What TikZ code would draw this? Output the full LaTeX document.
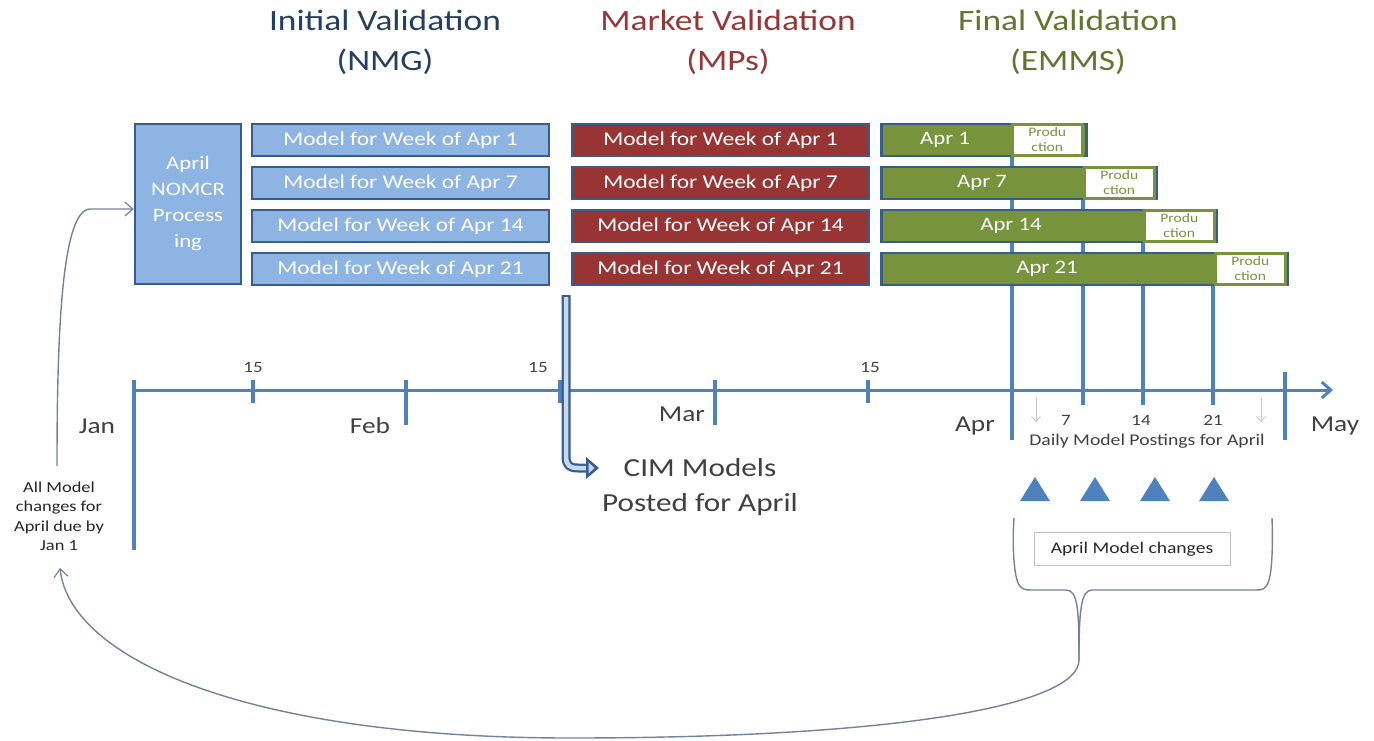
\documentclass[tikz,border=0pt]{standalone}
\usepackage{fontspec}
\setmainfont{Carlito}[FakeStretch=1.2]
\usetikzlibrary{arrows.meta}
\definecolor{navyT}{HTML}{243F60}
\definecolor{redT}{HTML}{953735}
\definecolor{greenT}{HTML}{5F7530}
\definecolor{boxblue}{HTML}{8DB4E2}
\definecolor{boxborder}{HTML}{385D8A}
\definecolor{boxred}{HTML}{983434}
\definecolor{boxgreen}{HTML}{77933C}
\definecolor{axisblue}{HTML}{4F81BD}
\definecolor{txtgray}{HTML}{404040}
\definecolor{curvec}{HTML}{71829E}
\definecolor{cimfill}{HTML}{C6D9F1}
\tikzset{
  title/.style={font=\fontsize{29.5}{40}\selectfont, align=center, inner sep=0},
  wkbox/.style={draw=boxborder, line width=2.5pt, minimum width=297pt, minimum height=32pt, inner sep=0, text=white, font=\fontsize{19.5}{20}\selectfont},
  bluebox/.style={wkbox, fill=boxblue},
  redbox/.style={wkbox, fill=boxred},
  grbox/.style={draw=boxborder, line width=2.5pt, fill=boxgreen, minimum height=32pt, inner sep=0, text=white, anchor=west},
  grtext/.style={text=white, font=\fontsize{19}{20}\selectfont, inner sep=0},
  prodbox/.style={draw=boxgreen, line width=2.5pt, fill=white, minimum width=70pt, minimum height=31pt, inner sep=0, text=boxgreen, font=\fontsize{13}{15}\selectfont, align=center, anchor=west},
  vline/.style={draw=axisblue, line width=3.5pt},
  tick/.style={draw=axisblue, line width=3.5pt},
  month/.style={font=\fontsize{22.8}{24}\selectfont, text=txtgray, inner sep=0},
  small/.style={font=\fontsize{15.8}{17}\selectfont, text=txtgray, inner sep=0},
  tri/.style={fill=axisblue},
  curve/.style={draw=curvec, line width=1.4pt},
}
\begin{document}
\begin{tikzpicture}[x=1pt,y=-1pt]
\useasboundingbox (0,0) rectangle (1374,740);

% titles
\node[title, text=navyT] (t1) at (385,42) {Initial Validation\\(NMG)};
\node[title, text=redT] (t2) at (728,42) {Market Validation\\(MPs)};
\node[title, text=greenT] (t3) at (1068,42) {Final Validation\\(EMMS)};

% vertical lines from final validation bars
\coordinate (v1t) at (1012,150);
\coordinate (v2t) at (1083,190);
\coordinate (v3t) at (1143,230);
\coordinate (v4t) at (1213,270);
\coordinate (v1b) at (1012,440);
\coordinate (v2b) at (1083,405);
\coordinate (v3b) at (1143,405);
\coordinate (v4b) at (1213,405);
\draw[vline] (v1t) -- (v1b);
\draw[vline] (v2t) -- (v2b);
\draw[vline] (v3t) -- (v3b);
\draw[vline] (v4t) -- (v4b);

% NOMCR box
\node[draw=boxborder, line width=2.5pt, fill=boxblue, minimum width=106pt, minimum height=160pt, inner sep=0, text=white, align=center, font=\fontsize{19}{26}\selectfont] (nom) at (188,204) {April\\NOMCR\\Process\\ing};

% initial validation boxes
\node[bluebox] (b1) at (400.5,140) {Model for Week of Apr 1};
\node[bluebox] (b2) at (400.5,183) {Model for Week of Apr 7};
\node[bluebox] (b3) at (400.5,226) {Model for Week of Apr 14};
\node[bluebox] (b4) at (400.5,269) {Model for Week of Apr 21};

% market validation boxes
\node[redbox] (r1) at (720.5,140) {Model for Week of Apr 1};
\node[redbox] (r2) at (720.5,183) {Model for Week of Apr 7};
\node[redbox] (r3) at (720.5,226) {Model for Week of Apr 14};
\node[redbox] (r4) at (720.5,269) {Model for Week of Apr 21};

% final validation bars
\node[grbox, minimum width=205pt] (g1) at (880,140) {};
\node[grtext] at (945,140) {Apr 1};
\node[prodbox] (p1) at (1011,140) {Produ\\ction};
\node[grbox, minimum width=275pt] (g2) at (880,183) {};
\node[grtext] at (982,183) {Apr 7};
\node[prodbox] (p2) at (1083,183) {Produ\\ction};
\node[grbox, minimum width=335pt] (g3) at (880,226) {};
\node[grtext] at (1011,226) {Apr 14};
\node[prodbox] (p3) at (1143,226) {Produ\\ction};
\node[grbox, minimum width=406pt] (g4) at (880,269) {};
\node[grtext] at (1047,269) {Apr 21};
\node[prodbox] (p4) at (1214,269) {Produ\\ction};

% axis
\coordinate (a0) at (134,390);
\coordinate (a1) at (1333,390);
\draw[draw=axisblue, line width=3pt, -{Straight Barb[length=9pt,width=16pt,line width=3pt]}] (a0) -- (a1);
\draw[tick] (134,380) -- (134,550);
\draw[tick] (253,380) -- (253,403);
\draw[tick] (406,380) -- (406,425);
\draw[tick] (560,380) -- (560,403);
\draw[tick] (715,380) -- (715,425);
\draw[tick] (868,380) -- (868,403);
\draw[tick] (1285,372) -- (1285,440);

\node[small] (n15a) at (253,367) {15};
\node[small] (n15b) at (538,367) {15};
\node[small] (n15c) at (870,367) {15};
\node[month] (jan) at (97,426) {Jan};
\node[month] (feb) at (370,426) {Feb};
\node[month] (mar) at (682,414) {Mar};
\node[month] (apr) at (975,426) {Apr};
\node[month] (may) at (1335,426) {May};

% daily postings
\draw[draw=gray!45, line width=0.8pt, -{Straight Barb[length=5pt,width=9pt]}] (1036,398) -- (1036,422);
\draw[draw=gray!45, line width=0.8pt, -{Straight Barb[length=5pt,width=9pt]}] (1261,398) -- (1261,422);
\node[small] (d7) at (1066,420) {7};
\node[small] (d14) at (1141,420) {14};
\node[small] (d21) at (1213,420) {21};
\node[font=\fontsize{16.4}{18}\selectfont, text=txtgray, inner sep=0] (daily) at (1147,441) {Daily Model Postings for April};

% triangles
\foreach \x in {1035,1095,1155,1214} {
  \fill[tri] (\x-15,501) -- (\x,477) -- (\x+15,501) -- cycle;
}

% April model changes box
\node[draw=gray!50, line width=0.8pt, minimum width=196pt, minimum height=33pt, inner sep=0, font=\fontsize{16.3}{18}\selectfont, text=black!85] (amc) at (1132,549) {April Model changes};

% brace
\coordinate (tip) at (1079,660);
\draw[curve] (1014,518) .. controls (1012,545) and (1014,570) .. (1017,580) .. controls (1020,590) and (1025,590) .. (1032,590) -- (1066,590) .. controls (1078,590) and (1079,610) .. (tip);
\draw[curve] (1272,518) .. controls (1273,545) and (1272,570) .. (1269,580) .. controls (1266,590) and (1262,590) .. (1256,590) -- (1092,590) .. controls (1081,590) and (1079,610) .. (tip);

% long return arrow
\node[font=\fontsize{15.3}{19.5}\selectfont, text=black!85, align=center, inner sep=0] (allm) at (59,516) {All Model\\changes for\\April due by\\Jan 1};
\draw[curve, -{Straight Barb[length=8pt,width=14pt,line width=1.2pt]}] (tip) .. controls (1079,705) and (900,738) .. (570,738) .. controls (250,738) and (70,660) .. (60,568);

% arrow from text to NOMCR box
\draw[curve, -{Straight Barb[length=8pt,width=14pt,line width=1.2pt]}] (57,466) .. controls (57,330) and (62,210) .. (90,209) -- (nom.west |- 0,209);

% CIM arrow
\coordinate (c0) at (566,295);
\coordinate (c1) at (590,468);
\draw[draw=boxborder, line width=9pt, line join=round] (c0) -- (566,456) .. controls (566,466) and (570,468) .. (578,468) -- (c1);
\draw[draw=cimfill, line width=4.5pt, line join=round, shorten <=2.2pt] (c0) -- (566,456) .. controls (566,466) and (570,468) .. (578,468) -- (588,468);
\fill[boxborder] (586,457) -- (599,468) -- (586,479) -- cycle;
\fill[cimfill] (588.5,462.5) -- (594.5,468) -- (588.5,473.5) -- cycle;
\node[font=\fontsize{26}{35}\selectfont, text=txtgray, align=center, inner sep=0] (cim) at (700,487) {CIM Models\\Posted for April};
\end{tikzpicture}
\end{document}
